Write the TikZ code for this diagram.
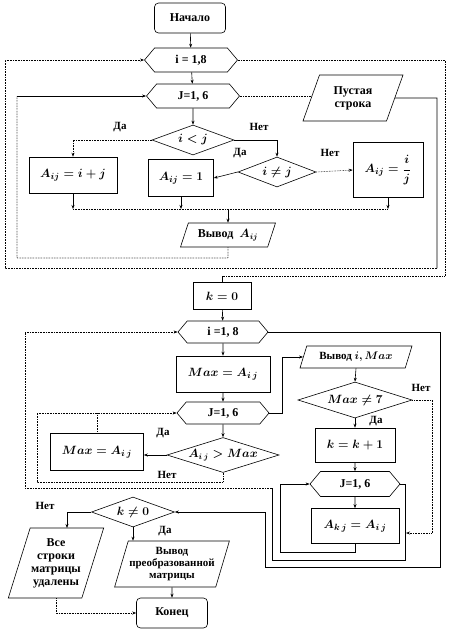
\documentclass[tikz,border=0pt]{standalone}
\usepackage{amsmath, amssymb}
\usepackage{fontspec}
\setmainfont{Liberation Serif}
\usetikzlibrary{positioning, shapes.geometric, shapes.symbols, arrows.meta}

\begin{document}
\begin{tikzpicture}[
  x=1pt, y=-1pt, line width=0.6pt,
  >={Stealth[length=4pt,width=3pt]},
  every node/.style={font=\bfseries\fontsize{12}{13}\selectfont},
  box/.style={draw, rectangle, inner sep=2pt, font=\bfseries\boldmath\fontsize{13}{14}\selectfont},
  term/.style={draw, rounded corners=4pt, minimum width=71pt, minimum height=30pt},
  loopbox/.style={draw, signal, signal to=east and west, signal pointer angle=100, inner sep=1pt, minimum height=24pt},
  cond/.style={draw, diamond, inner sep=0pt, font=\bfseries\boldmath\fontsize{12}{13}\selectfont},
  io/.style={draw, trapezium, trapezium left angle=60, trapezium right angle=120, trapezium stretches body, align=center, inner sep=1pt},
  lbl/.style={font=\bfseries\fontsize{11}{12}\selectfont},
  back/.style={densely dotted}
]
\useasboundingbox (0,0) rectangle (448,630);

% first part: filling the matrix
\node[term] (start) at (190,18) {Начало};
\node[loopbox, minimum width=93pt] (loopI1) at (191,60) {i = 1,8};
\node[loopbox, minimum width=93pt] (loopJ1) at (193,96) {J=1, 6};
\node[io, trapezium left angle=57, trapezium right angle=123, minimum width=100pt, minimum height=46pt] (empty) at (353,98) {Пустая\\строка};
\node[cond, aspect=2.7, minimum width=82pt, minimum height=30pt] (condLt) at (193,140) {$i<j$};
\node[cond, aspect=2.6, minimum width=78pt, minimum height=30pt] (condNe) at (277,172) {$i\ne j$};
\node[box, minimum width=88pt, minimum height=36pt] (boxSum) at (73,175) {$A_{ij}=i+j$};
\node[box, minimum width=65pt, minimum height=37pt] (boxOne) at (181,178) {$A_{ij}=1$};
\node[box, minimum width=70pt, minimum height=55pt] (boxDiv) at (388,170) {$A_{ij}=\dfrac{i}{j}$};
\node[io, minimum width=95pt, minimum height=24pt] (outA) at (228,235) {Вывод\ \ $\boldsymbol{A_{ij}}$};

\node[lbl] at (120,127) {Да};
\node[lbl] at (259,127) {Нет};
\node[lbl] at (240,153) {Да};
\node[lbl] at (330,153) {Нет};

\draw[->] (start) -- (loopI1);
\draw[->] (loopI1) -- (loopJ1);
\draw[->] (loopJ1) -- (condLt);
\draw[->, back] (condLt.west) -| (boxSum.north);
\draw[->] (condLt.east) -| (condNe.north);
\draw[->] (condNe.west) -- (boxOne.east);
\draw[->, back] (condNe.east) -- (boxDiv.west);
\draw[->] (boxSum.south) -- (boxSum.south |- 0,209);
\draw[->] (boxOne.south) -- (boxOne.south |- 0,209);
\draw[->] (boxDiv.south) -- (boxDiv.south |- 0,209);
\draw[back] (boxSum.south |- 0,209) -- (boxDiv.south |- 0,209);
\draw[->] (outA.north |- 0,209) -- (outA.north);
\draw[back] (outA.south) -- (228,258) -- (17,258) -- (17,96);
\draw[->] (17,96) -- (loopJ1.west);
\draw[back] (loopJ1.east) -- (empty.west |- loopJ1.east);
\draw (empty.east) -- (437,98) -- (437,268);
\draw[->, back] (437,268) -- (5,268) -- (5,60) -- (loopI1.west);
\draw[back] (loopI1.east) -- (445,60) -- (445,276) -- (222,276);

% second part: row maxima
\node[box, minimum width=58pt, minimum height=27pt] (k0) at (222,296) {$k=0$};
\draw (222,276) -- (k0.north);
\node[loopbox, minimum width=90pt, minimum height=22pt] (loopI2) at (223,332) {i =1, 8};
\node[box, minimum width=94pt, minimum height=36pt] (boxMax) at (223,374) {$Max=A_{i\,j}$};
\node[loopbox, minimum width=92pt, minimum height=22pt] (loopJ2) at (223,413) {J=1, 6};
\node[cond, aspect=3.2, minimum width=112pt, minimum height=35pt] (condGt) at (223,455) {$A_{i\,j}>Max$};
\node[box, minimum width=93pt, minimum height=37pt] (boxMax2) at (97,452) {$Max=A_{i\,j}$};
\node[io, minimum width=112pt, minimum height=22pt, font=\bfseries\fontsize{11}{12}\selectfont] (outMax) at (356,357) {Вывод $\boldsymbol{i,Max}$};
\node[cond, aspect=3.2, minimum width=114pt, minimum height=36pt] (condSeven) at (355,400) {$Max\ne 7$};
\node[box, minimum width=80pt, minimum height=34pt] (boxInc) at (355,445) {$k=k+1$};
\node[loopbox, minimum width=90pt, minimum height=25pt] (loopJ3) at (355,484) {J=1, 6};
\node[box, minimum width=88pt, minimum height=35pt] (boxCopy) at (355,526) {$A_{k\,j}=A_{i\,j}$};

\node[lbl] at (163,433) {Да};
\node[lbl] at (167,475) {Нет};
\node[lbl] at (376,421) {Да};
\node[lbl] at (421,388) {Нет};

\draw[->] (k0) -- (loopI2);
\draw[->] (loopI2) -- (boxMax);
\draw[->] (boxMax) -- (loopJ2);
\draw[->] (loopJ2) -- (condGt);
\draw[->] (condGt.west) -- (boxMax2.east |- condGt.west);
\draw[back] (condGt.south) -- (223,482) -- (37,482) -- (37,413);
\draw[->, back] (37,413) -- (loopJ2.west);
\draw[back] (boxMax2.north) -- (boxMax2.north |- loopJ2.west);
\draw[->] (loopJ2.east) -- (282,413) -- (282,357) -- (outMax.west);
\draw[->] (outMax.south) -- (condSeven.north);
\draw[->] (condSeven.south) -- (boxInc.north);
\draw[->, back] (condSeven.east) -- (432,400) -- (432,533) -- (406,533);
\draw[->] (boxInc) -- (loopJ3);
\draw[->] (loopJ3) -- (boxCopy);
\draw[->] (boxCopy.south) -- (355,552) -- (280,552) -- (280,484) -- (loopJ3.west);
\draw (loopJ3.east) -- (405,484) -- (405,560) -- (272,560) -- (272,488);
\draw[->, back] (272,488) -- (25,488) -- (25,332) -- (loopI2.west);
\draw (loopI2.east) -- (440,332) -- (440,567) -- (265,567) -- (265,512);

% third part: result
\node[cond, aspect=2.8, minimum width=83pt, minimum height=30pt] (condNz) at (133,512) {$k\ne 0$};
\node[io, trapezium left angle=67, trapezium right angle=113, minimum width=78pt, minimum height=70pt] (outNone) at (56,563) {Все\\строки\\матрицы\\удалены};
\node[io, trapezium left angle=69, trapezium right angle=111, minimum width=113pt, minimum height=46pt, font=\bfseries\fontsize{11}{12}\selectfont] (outRes) at (172,564) {Вывод\\преобразованной\\матрицы};
\node[term] (stop) at (172,613) {Конец};

\node[lbl] at (45,506) {Нет};
\node[lbl] at (165,531) {Да};

\draw[->] (265,512) -- (condNz.east);
\draw[->] (condNz.west) -| (67,528);
\draw[->] (condNz.south) -- (condNz.south |- outRes.north);
\draw[->] (outRes.south) -- (stop.north);
\draw[->, back] (outNone.south) |- (stop.west);
\end{tikzpicture}
\end{document}
